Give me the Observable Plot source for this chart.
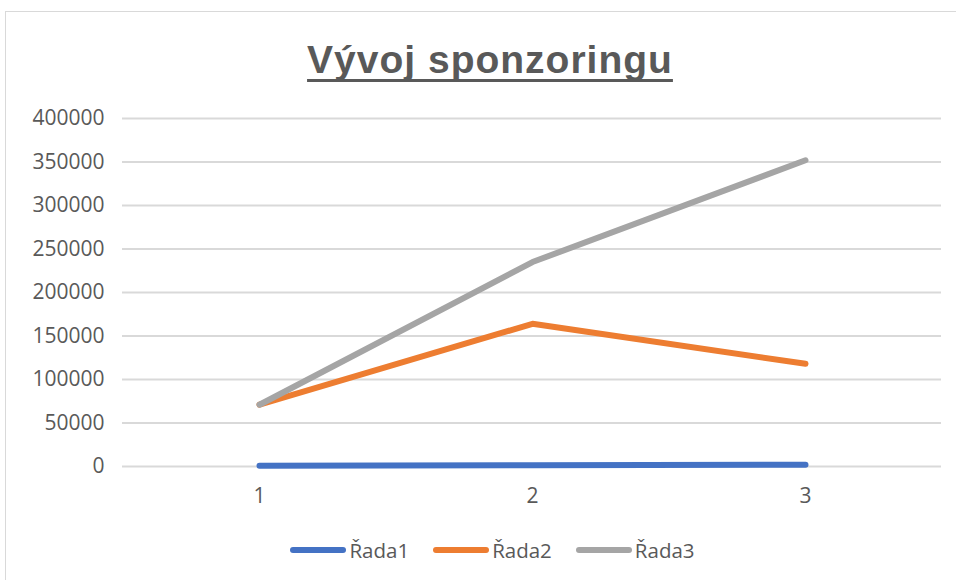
<!DOCTYPE html>
<html>
<head>
<meta charset="utf-8">
<script src="https://cdn.jsdelivr.net/npm/d3@7"></script>
<script src="https://cdn.jsdelivr.net/npm/@observablehq/plot@0.6"></script>
<style>
  html, body { margin: 0; padding: 0; background: #fff; overflow: hidden; }
  #wrap { position: relative; width: 956px; height: 580px; font-family: "Open Sans", sans-serif; color: #595959; }
  #frame { position: absolute; left: 5px; top: 11px; width: 1200px; height: 1200px; border-left: 1.5px solid #d9d9d9; border-top: 1.5px solid #d9d9d9; pointer-events: none; }
  #title { position: relative; height: 95px; box-sizing: border-box; padding-top: 41px; padding-left: 24px; text-align: center;
    font-family: "Liberation Sans", Arial, sans-serif; font-weight: bold; font-size: 39px; line-height: 37px; letter-spacing: 1px;
    color: #595959; }
  #title span { text-decoration: underline; text-decoration-thickness: 3px; text-underline-offset: 6px; text-decoration-skip-ink: none; }
  #chart svg { display: block; }
  #legend { height: 60px; box-sizing: border-box; padding-top: 0px; padding-left: 29px; display: flex; justify-content: center; align-items: center;
    font-size: 20.5px; line-height: 20px; color: #595959; }
  .item { display: flex; align-items: center; margin: 0 12px; }
  .sw { width: 56px; height: 6px; border-radius: 3px; margin-right: 3px; }
</style>
</head>
<body>
<div id="wrap">
  <div id="frame"></div>
  <div id="title"><span>Vývoj sponzoringu</span></div>
  <div id="chart"></div>
  <div id="legend"></div>
</div>
<script>
const categories = [1, 2, 3];
const seriesNames = ["Řada1", "Řada2", "Řada3"];
const rada1 = [800, 1500, 2000];
const rada2 = [71000, 164000, 118000];
const rada3 = [71000, 235000, 352000];
const yTicks = [0, 50000, 100000, 150000, 200000, 250000, 300000, 350000, 400000];
const colors = ["#4472C4", "#ED7D31", "#A5A5A5"];

const allSeries = [rada1, rada2, rada3];
const data = [];
allSeries.forEach((vals, i) => {
  vals.forEach((v, j) => data.push({ x: categories[j], y: v, series: seriesNames[i] }));
});

const chart = Plot.plot({
  width: 956,
  height: 425,
  marginLeft: 122,
  marginRight: 15,
  marginTop: 23,
  marginBottom: 54,
  style: { fontFamily: "Open Sans, sans-serif", fontSize: "21px", color: "#595959", background: "transparent" },
  x: { type: "point", domain: categories, padding: 0.5 },
  y: { domain: [0, 400000] },
  color: { domain: seriesNames, range: colors },
  marks: [
    Plot.ruleY(yTicks, { stroke: "#d9d9d9", strokeWidth: 2 }),
    Plot.axisY({ ticks: yTicks, tickSize: 0, tickPadding: 18, tickFormat: d => String(d), label: null }),
    Plot.axisX({ ticks: categories, tickSize: 0, tickPadding: 22, tickFormat: d => String(d), label: null }),
    Plot.line(data, { x: "x", y: "y", z: "series", stroke: "series", strokeWidth: 6, strokeLinecap: "round", strokeLinejoin: "round" })
  ]
});
document.getElementById("chart").appendChild(chart);

const legend = document.getElementById("legend");
seriesNames.forEach((name, i) => {
  const it = document.createElement("div");
  it.className = "item";
  const sw = document.createElement("div");
  sw.className = "sw";
  sw.style.background = colors[i];
  const t = document.createElement("span");
  t.textContent = name;
  it.appendChild(sw);
  it.appendChild(t);
  legend.appendChild(it);
});
</script>
</body>
</html>
